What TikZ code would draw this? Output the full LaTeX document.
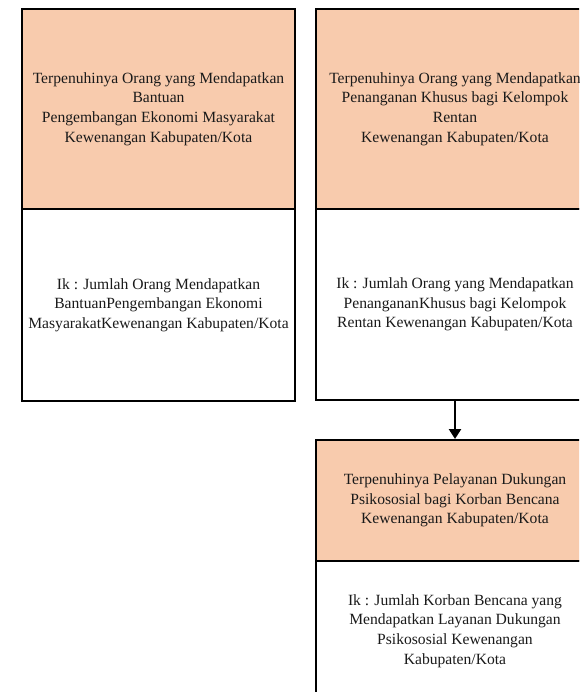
\documentclass[tikz,border=0pt]{standalone}
\usepackage{fontspec}
\setmainfont{Liberation Serif}
\usetikzlibrary{arrows.meta}
\definecolor{peach}{HTML}{F8CBAD}
\definecolor{txt}{HTML}{1A1A1A}
\tikzset{
  box/.style={draw=black, line width=2pt, rectangle, inner sep=0pt, align=center,
    anchor=north west, text=txt, font=\fontsize{15.6}{19.6}\selectfont},
  headbox/.style={box, fill=peach},
  bodybox/.style={box, fill=white},
  flowarrow/.style={line width=2.6pt, -{Triangle[length=10pt,width=12pt]}}
}
\begin{document}
\begin{tikzpicture}[x=1pt,y=-1pt]
\useasboundingbox (0,0) rectangle (579,692);
\clip (0,0) rectangle (579,692);
% left column
\node[headbox, minimum width=273pt, minimum height=200pt] (a1) at (21,8)
  {Terpenuhinya Orang yang Mendapatkan\\Bantuan\\Pengembangan Ekonomi Masyarakat\\Kewenangan Kabupaten/Kota};
\node[bodybox, minimum width=273pt, minimum height=192pt] (a2) at (21,208)
  {Ik : Jumlah Orang Mendapatkan\\BantuanPengembangan Ekonomi\\MasyarakatKewenangan Kabupaten/Kota};
% right column
\node[headbox, minimum width=278pt, minimum height=200pt] (b1) at (315,8)
  {Terpenuhinya Orang yang Mendapatkan\\Penanganan Khusus bagi Kelompok\\Rentan\\Kewenangan Kabupaten/Kota};
\node[bodybox, minimum width=278pt, minimum height=191pt] (b2) at (315,208)
  {Ik : Jumlah Orang yang Mendapatkan\\PenangananKhusus bagi Kelompok\\Rentan Kewenangan Kabupaten/Kota};
% lower box
\node[headbox, minimum width=278pt, minimum height=121pt] (c1) at (315,439)
  {Terpenuhinya Pelayanan Dukungan\\Psikososial bagi Korban Bencana\\Kewenangan Kabupaten/Kota};
\node[bodybox, minimum width=278pt, minimum height=140pt] (c2) at (315,560)
  {Ik : Jumlah Korban Bencana yang\\Mendapatkan Layanan Dukungan\\Psikososial Kewenangan\\Kabupaten/Kota};
\draw[flowarrow] (b2.south) -- (c1.north);
\end{tikzpicture}
\end{document}
